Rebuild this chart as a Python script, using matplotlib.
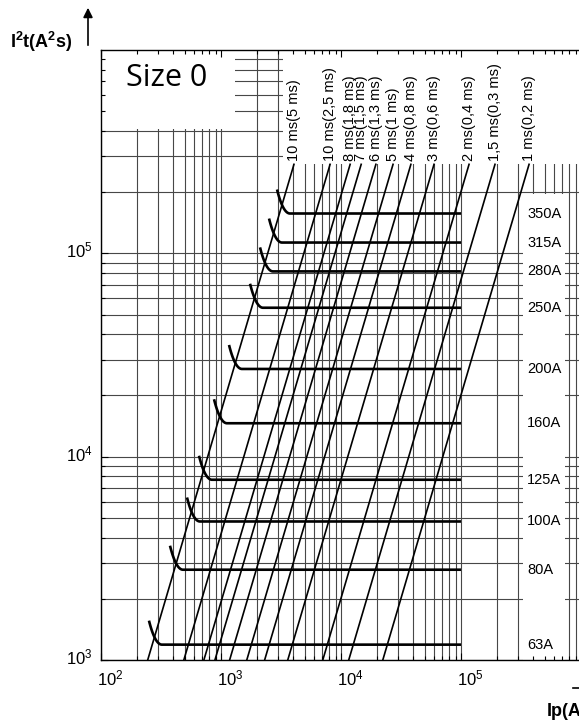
import matplotlib
matplotlib.use("Agg")
import matplotlib.pyplot as plt
import numpy as np
from matplotlib.patches import Rectangle
from matplotlib.lines import Line2D
from matplotlib.ticker import NullFormatter
from matplotlib.transforms import ScaledTranslation

plt.rcParams['font.family'] = ['Liberation Sans', 'DejaVu Sans']
plt.rcParams['mathtext.fontset'] = 'custom'
plt.rcParams['mathtext.rm'] = 'Liberation Sans'
plt.rcParams['mathtext.bf'] = 'Liberation Sans:bold'

# constant-time lines: label and Ip (A) where each line crosses I2t = 1e3 A2s
time_labels = ["10 ms(5 ms)", "10 ms(2,5 ms)", "8 ms(1,8 ms)", "7 ms(1,5 ms)",
               "6 ms(1,3 ms)", "5 ms(1 ms)", "4 ms(0,8 ms)", "3 ms(0,6 ms)",
               "2 ms(0,4 ms)", "1,5 ms(0,3 ms)", "1 ms(0,2 ms)"]
ip_at_1e3 = [245, 490, 720, 890, 1180, 1640, 2310, 3600, 7050, 11600, 22300]
line_top = 2.74e5   # I2t where the lines stop under their labels

# fuse ratings: let-through I2t plateau and Ip where the plateau starts
ratings = ["63A", "80A", "100A", "125A", "160A", "200A", "250A", "280A", "315A", "350A"]
i2t_level = [1190, 2780, 4800, 7700, 14600, 27000, 54000, 81500, 113000, 157000]
ip_knee = [322, 482, 668, 841, 1122, 1496, 2239, 2712, 3224, 3758]
ip_end = 1e5

fig = plt.figure(figsize=(5.79, 7.22), dpi=100)
ax = fig.add_axes([101/579, 62/722, 478/579, 610/722])
ax.set_xscale('log')
ax.set_yscale('log')
ax.set_xlim(1e2, 10**(2 + 478/120))
ax.set_ylim(1e3, 1e6)

# log grid, drawn by hand so white boxes can sit on it
gkw = dict(color='0.28', lw=0.8, zorder=0.5)
for d in range(2, 6):
    for m in range(1, 10):
        ax.axvline(m * 10**d, **gkw)
for d in range(3, 6):
    for m in range(1, 10):
        ax.axhline(m * 10**d, **gkw)

# blank areas of the sheet (title box, label row, rating column)
wkw = dict(facecolor='white', edgecolor='none', zorder=1)
ax.add_patch(Rectangle((1e2, 4.1e5), 1310 - 1e2, 1e6 - 4.1e5, **wkw))
ax.add_patch(Rectangle((3290, line_top), 1e6 - 3290, 1e6 - line_top, **wkw))
ax.add_patch(Rectangle((3.29e5, 1e3), 7.36e5 - 3.29e5, 1.95e5 - 1e3, **wkw))

# constant-time lines (slope 2 on log-log)
for lab, ip0 in zip(time_labels, ip_at_1e3):
    y = np.array([0.9e3, line_top])
    x = ip0 * np.sqrt(y / 1e3)
    ax.plot(x, y, color='k', lw=1.2, zorder=2)
    ax.text(x[-1], 2.85e5, lab, rotation=90, ha='center', va='bottom',
            fontsize=10.5, zorder=3)

# fuse let-through curves: hook + plateau
t = np.linspace(0, 1, 30)
for name, lvl, xk in zip(ratings, i2t_level, ip_knee):
    lx, ly = np.log10(xk), np.log10(lvl)
    p0 = np.array([lx - 0.108, ly + 0.118])
    p1 = np.array([lx - 0.058, ly])
    p2 = np.array([lx, ly])
    bx = (1 - t)**2 * p0[0] + 2 * (1 - t) * t * p1[0] + t**2 * p2[0]
    by = (1 - t)**2 * p0[1] + 2 * (1 - t) * t * p1[1] + t**2 * p2[1]
    xs = np.concatenate([10**bx, [ip_end]])
    ys = np.concatenate([10**by, [lvl]])
    ax.plot(xs, ys, color='k', lw=1.9, zorder=2, solid_capstyle='butt')
    ax.text(3.55e5, lvl, name, ha='left', va='center', fontsize=10.5, zorder=3)

# axes cosmetics
ax.set_xticks([1e2, 1e3, 1e4, 1e5])
ax.set_yticks([1e3, 1e4, 1e5])
ax.xaxis.set_minor_formatter(NullFormatter())
ax.yaxis.set_minor_formatter(NullFormatter())
ax.tick_params(which='both', direction='in', top=True, right=False,
               labelsize=12, width=0.8, pad=6)
ax.tick_params(which='major', length=5)
ax.tick_params(which='minor', length=3)
ax.spines['right'].set_visible(False)
for s in ['left', 'top', 'bottom']:
    ax.spines[s].set_linewidth(1.0)

fig.canvas.draw()
dx = ScaledTranslation(9/100, 0, fig.dpi_scale_trans)
for lab in ax.get_xticklabels():
    lab.set_transform(lab.get_transform() + dx)
dy = ScaledTranslation(0, 4/100, fig.dpi_scale_trans)
for lab in ax.get_yticklabels():
    lab.set_transform(lab.get_transform() + dy)

fig.text(167/579, 1 - 78/722, "Size 0", ha='center', va='center',
         family='Open Sans', fontsize=22)
fig.text(10/579, 1 - 48/722, r'$\mathbf{I^2t(A^2s)}$', fontsize=13,
         va='baseline', ha='left')
fig.text(547/579, 1 - 716/722, 'Ip(A)', fontsize=13, fontweight='bold',
         va='baseline', ha='left')
ax.annotate('', xy=(88, 722 - 5), xytext=(88, 722 - 48),
            xycoords='figure pixels', textcoords='figure pixels',
            arrowprops=dict(arrowstyle='-|>', color='k', lw=1.2, mutation_scale=14))
fig.add_artist(Line2D([573/579, 1.0], [1 - 688/722, 1 - 688/722],
                      color='k', lw=1.2, transform=fig.transFigure))

fig.savefig('out.png', dpi=100)
